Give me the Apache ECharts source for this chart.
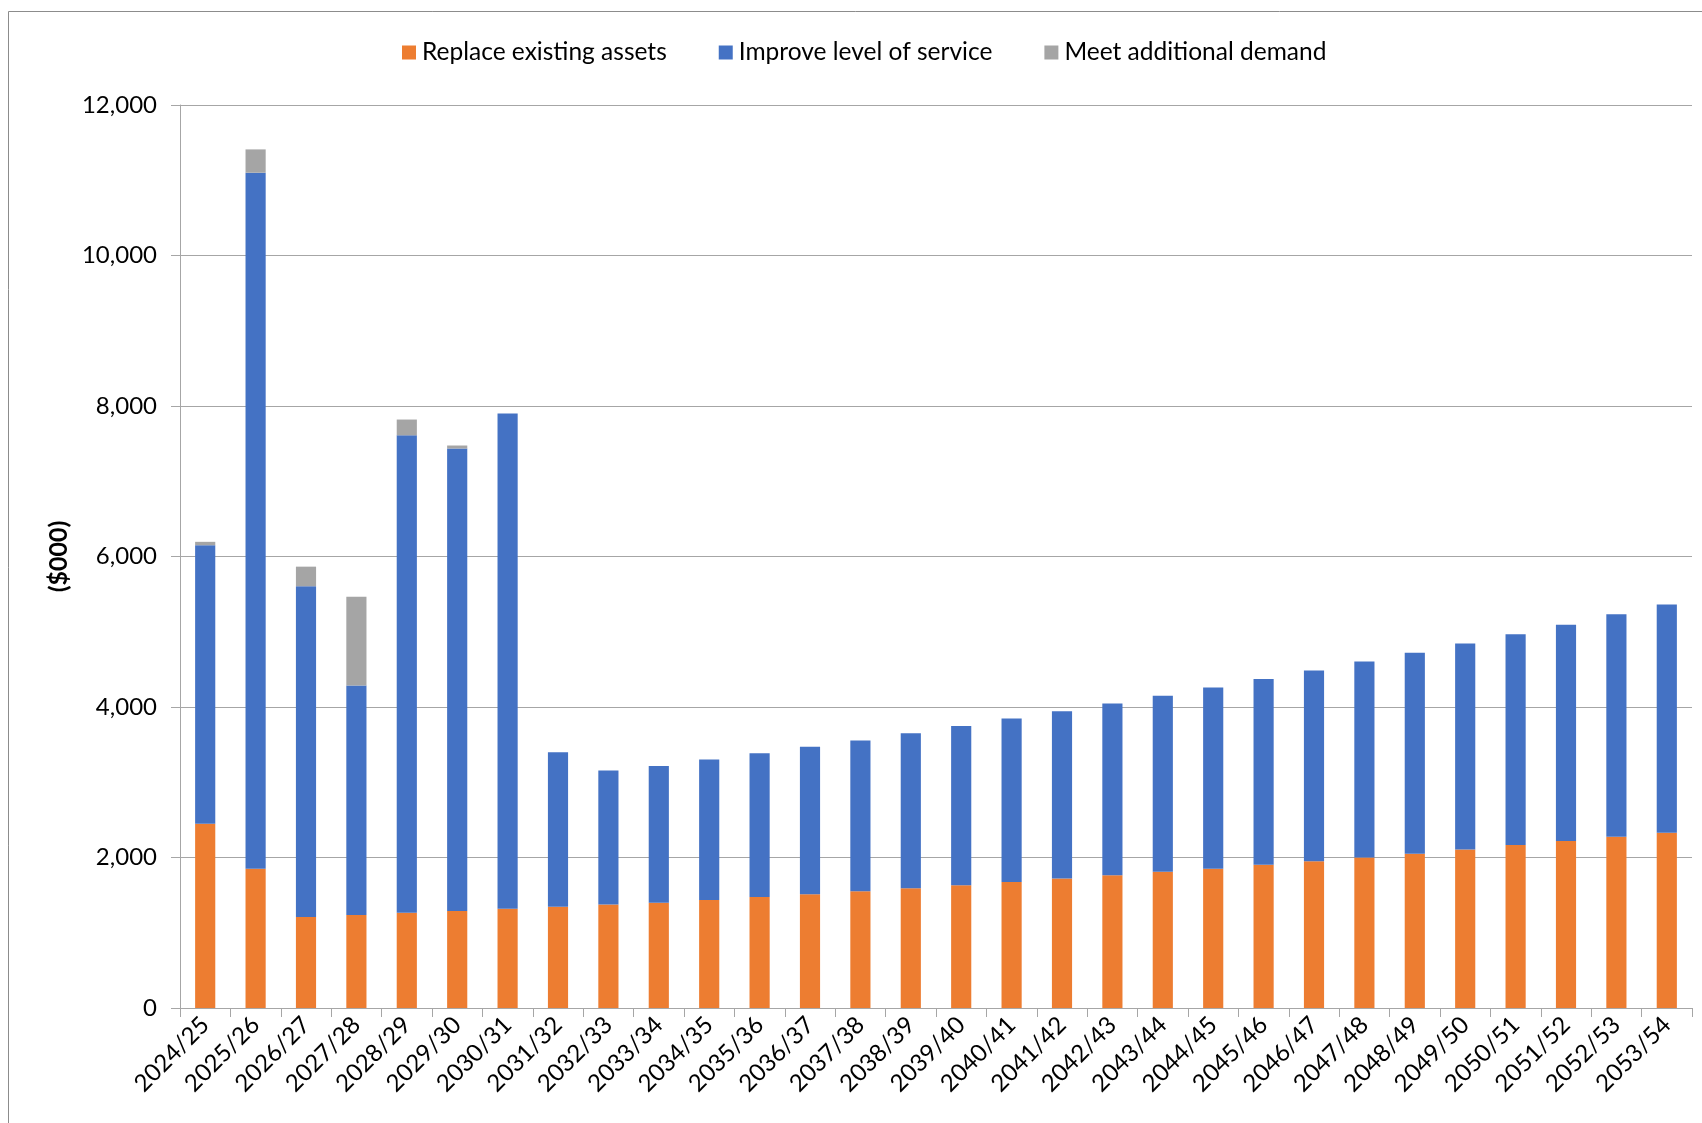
<!DOCTYPE html>
<html>
<head>
<meta charset="utf-8">
<script src="https://cdn.jsdelivr.net/npm/echarts@6/dist/echarts.min.js"></script>
<style>
html,body{margin:0;padding:0;background:#fff;}
#chart{width:1702px;height:1123px;}
</style>
</head>
<body>
<div id="chart"></div>
<script>
const categories = ["2024/25","2025/26","2026/27","2027/28","2028/29","2029/30","2030/31","2031/32","2032/33","2033/34","2034/35","2035/36","2036/37","2037/38","2038/39","2039/40","2040/41","2041/42","2042/43","2043/44","2044/45","2045/46","2046/47","2047/48","2048/49","2049/50","2050/51","2051/52","2052/53","2053/54"];
const replaceAssets = [2450,1850,1210,1235,1265,1290,1320,1345,1375,1400,1435,1475,1510,1550,1590,1630,1675,1720,1765,1810,1850,1905,1950,2000,2050,2105,2165,2220,2275,2330];
const improveService = [3700,9250,4395,3050,6345,6145,6580,2055,1780,1817,1866,1910,1962,2005,2060,2119,2172,2225,2280,2338,2410,2467,2535,2603,2672,2738,2801,2874,2957,3032];
const additionalDemand = [45,310,260,1180,210,40,0,0,0,0,0,0,0,0,0,0,0,0,0,0,0,0,0,0,0,0,0,0,0,0];
const yTicks = [0,2000,4000,6000,8000,10000,12000];

const FONT = 'Lato';
const chart = echarts.init(document.getElementById('chart'), null, {renderer:'canvas'});
const seriesDef = [
  {name:'Replace existing assets', data: replaceAssets, color:'#ED7D31'},
  {name:'Improve level of service', data: improveService, color:'#4472C4'},
  {name:'Meet additional demand', data: additionalDemand, color:'#A5A5A5'}
];
chart.setOption({
  animation:false,
  backgroundColor:'#ffffff',
  textStyle:{fontFamily:FONT, color:'#000'},
  graphic:[{
    type:'rect', silent:true,
    shape:{x:8.5, y:11.5, width:1800, height:1300},
    style:{fill:'none', stroke:'#8c8c8c', lineWidth:1}
  }],
  legend:{
    left:397, top:35,
    itemWidth:14, itemHeight:14, itemGap:52,
    icon:'rect',
    textStyle:{fontFamily:FONT, fontSize:24.5, color:'#000', padding:[0,0,0,1]},
    data: seriesDef.map(s=>s.name)
  },
  grid:{left:180, right:10, top:105, bottom:115, containLabel:false},
  xAxis:{
    type:'category',
    data:categories,
    boundaryGap:true,
    axisLine:{lineStyle:{color:'#a6a6a6', width:1}},
    axisTick:{show:true, length:9, alignWithLabel:false, lineStyle:{color:'#a6a6a6'}},
    axisLabel:{rotate:45, interval:0, fontFamily:FONT, fontSize:24, color:'#000', margin:13}
  },
  yAxis:{
    type:'value',
    min:yTicks[0], max:yTicks[yTicks.length-1], interval:2000,
    name:'($000)',
    nameLocation:'middle',
    nameGap:108,
    nameRotate:90,
    nameTextStyle:{fontFamily:FONT, fontSize:25, fontWeight:'bold', color:'#000'},
    axisLine:{show:true, lineStyle:{color:'#a6a6a6', width:1}},
    axisTick:{show:true, length:9, lineStyle:{color:'#a6a6a6'}},
    splitLine:{show:true, lineStyle:{color:'#a6a6a6', width:1}},
    axisLabel:{
      fontFamily:FONT, fontSize:24, color:'#000', margin:23,
      formatter:v=>v.toLocaleString('en-US')
    }
  },
  series: seriesDef.map(s=>({
    name:s.name, type:'bar', stack:'total',
    data:s.data,
    barWidth:'40%',
    itemStyle:{color:s.color},
    emphasis:{disabled:true}
  }))
});
</script>
</body>
</html>
